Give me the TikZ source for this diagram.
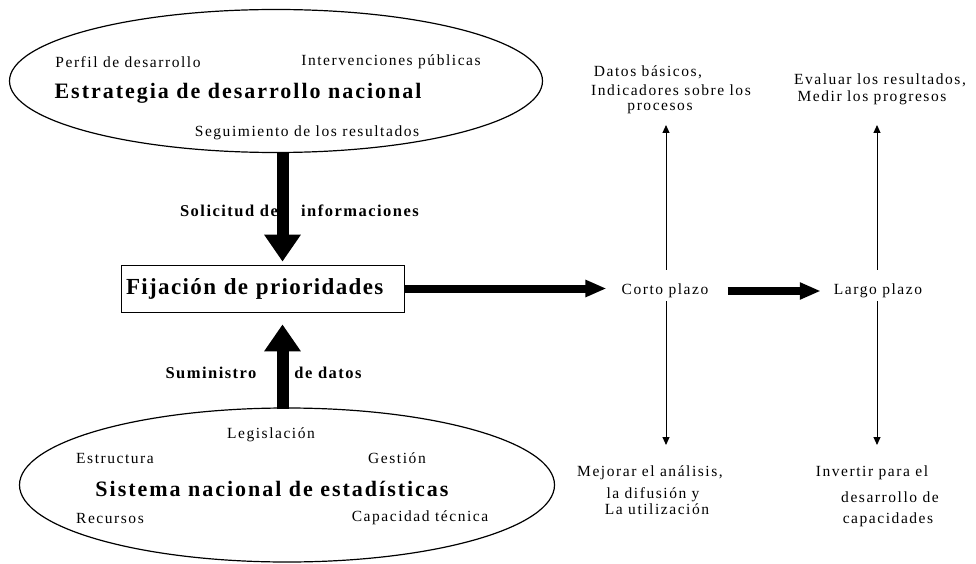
\documentclass[tikz,border=0pt]{standalone}
\usepackage{fontspec}
\setmainfont{Liberation Serif}[LetterSpace=10]
\newfontfamily\titlefont{Liberation Serif}[LetterSpace=9]
\newfontfamily\boxfont{Liberation Serif}[LetterSpace=6]
\usetikzlibrary{shapes.geometric,arrows.meta,positioning}

\begin{document}
\begin{tikzpicture}[x=1pt,y=-1pt]
\tikzstyle{oval}=[ellipse,draw=black,line width=1.2pt,inner sep=0pt]
\tikzstyle{lbl}=[inner sep=1pt,font=\fontsize{15.5}{18}\selectfont]
\tikzstyle{ttl}=[inner sep=1pt,font=\titlefont\bfseries\fontsize{22}{26}\selectfont]
\tikzstyle{flow}=[inner sep=1pt,font=\titlefont\bfseries\fontsize{16.5}{19}\selectfont]
\tikzstyle{bigarrow}=[line width=12pt,-{Triangle[length=27pt,width=35pt]}]
\tikzstyle{midarrow}=[line width=8pt,-{Triangle[length=21pt,width=16pt]}]
\tikzstyle{thinarrow}=[line width=1pt,-{Triangle[length=8pt,width=7pt]}]
\useasboundingbox (0,0) rectangle (976,564);

% the two ovals
\node[oval,minimum width=533pt,minimum height=143pt] (estrategia) at (276,81) {};
\node[oval,minimum width=535pt,minimum height=154pt] (sistema) at (287,485) {};

\node[lbl] (perfil) at (128,62) {Perfil de desarrollo};
\node[lbl] (interv) at (391,62) {Intervenciones públicas};
\node[ttl] (estrtitle) at (238,93) {Estrategia de desarrollo nacional};
\node[lbl] (seguim) at (307,133) {Seguimiento de los resultados};

\node[lbl] (legis) at (271,435) {Legislación};
\node[lbl] (estruct) at (115,458) {Estructura};
\node[lbl] (gestion) at (397,458) {Gestión};
\node[ttl] (sisttitle) at (272,489) {Sistema nacional de estadísticas};
\node[lbl] (recursos) at (110,518) {Recursos};
\node[lbl] (capac) at (420,518) {Capacidad técnica};

% centre box
\node[draw=black,line width=0.8pt,text width=273pt,inner xsep=5pt,inner ysep=0pt,
  minimum height=47pt,align=left,font=\boxfont\bfseries\fontsize{23}{26}\selectfont]
  (fijacion) at (262.5,288.5) {Fijación de prioridades};

\node[flow] (solic1) at (229,211) {Solicitud de};
\node[flow] (solic2) at (360,211) {informaciones};
\node[flow] (sumin1) at (211,373) {Suministro};
\node[flow] (sumin2) at (328,373) {de datos};

\coordinate (down) at (282.5,152);
\coordinate (up) at (282.5,409);
\draw[bigarrow,shorten >=3pt] (down) -- (down |- fijacion.north);
\draw[bigarrow,shorten >=12pt] (up) -- (up |- fijacion.south);

% horizons
\node[lbl] (corto) at (665,291) {Corto plazo};
\node[lbl] (largo) at (878,291) {Largo plazo};
\draw[midarrow,shorten >=14pt] (fijacion.east) -- (fijacion.east -| corto.west);
\draw[midarrow,shorten <=18pt,shorten >=12pt] (corto.east) -- (corto.east -| largo.west);

\coordinate (cortoup) at (666,125);
\coordinate (cortodown) at (666,445);
\coordinate (largoup) at (877,125);
\coordinate (largodown) at (877,445);
\draw[thinarrow,shorten <=13pt] (corto.north -| cortoup) -- (cortoup);
\draw[thinarrow,shorten <=2pt] (corto.south -| cortodown) -- (cortodown);
\draw[thinarrow,shorten <=13pt] (largo.north -| largoup) -- (largoup);
\draw[thinarrow,shorten <=2pt] (largo.south -| largodown) -- (largodown);

\node[lbl] (datos1) at (648,72) {Datos básicos,};
\node[lbl] (datos2) at (671,90) {Indicadores sobre los};
\node[lbl] (datos3) at (660,108) {procesos};
\node[lbl] (eval1) at (880,80) {Evaluar los resultados,};
\node[lbl] (eval2) at (872,98) {Medir los progresos};

\node[lbl] (mejor1) at (650,473) {Mejorar el análisis,};
\node[lbl] (mejor2) at (653,495) {la difusión y};
\node[lbl] (mejor3) at (657,509) {La utilización};
\node[lbl] (invert1) at (872,473) {Invertir para el};
\node[lbl] (invert2) at (890,497) {desarrollo de};
\node[lbl] (invert3) at (888,520) {capacidades};

\end{tikzpicture}
\end{document}
